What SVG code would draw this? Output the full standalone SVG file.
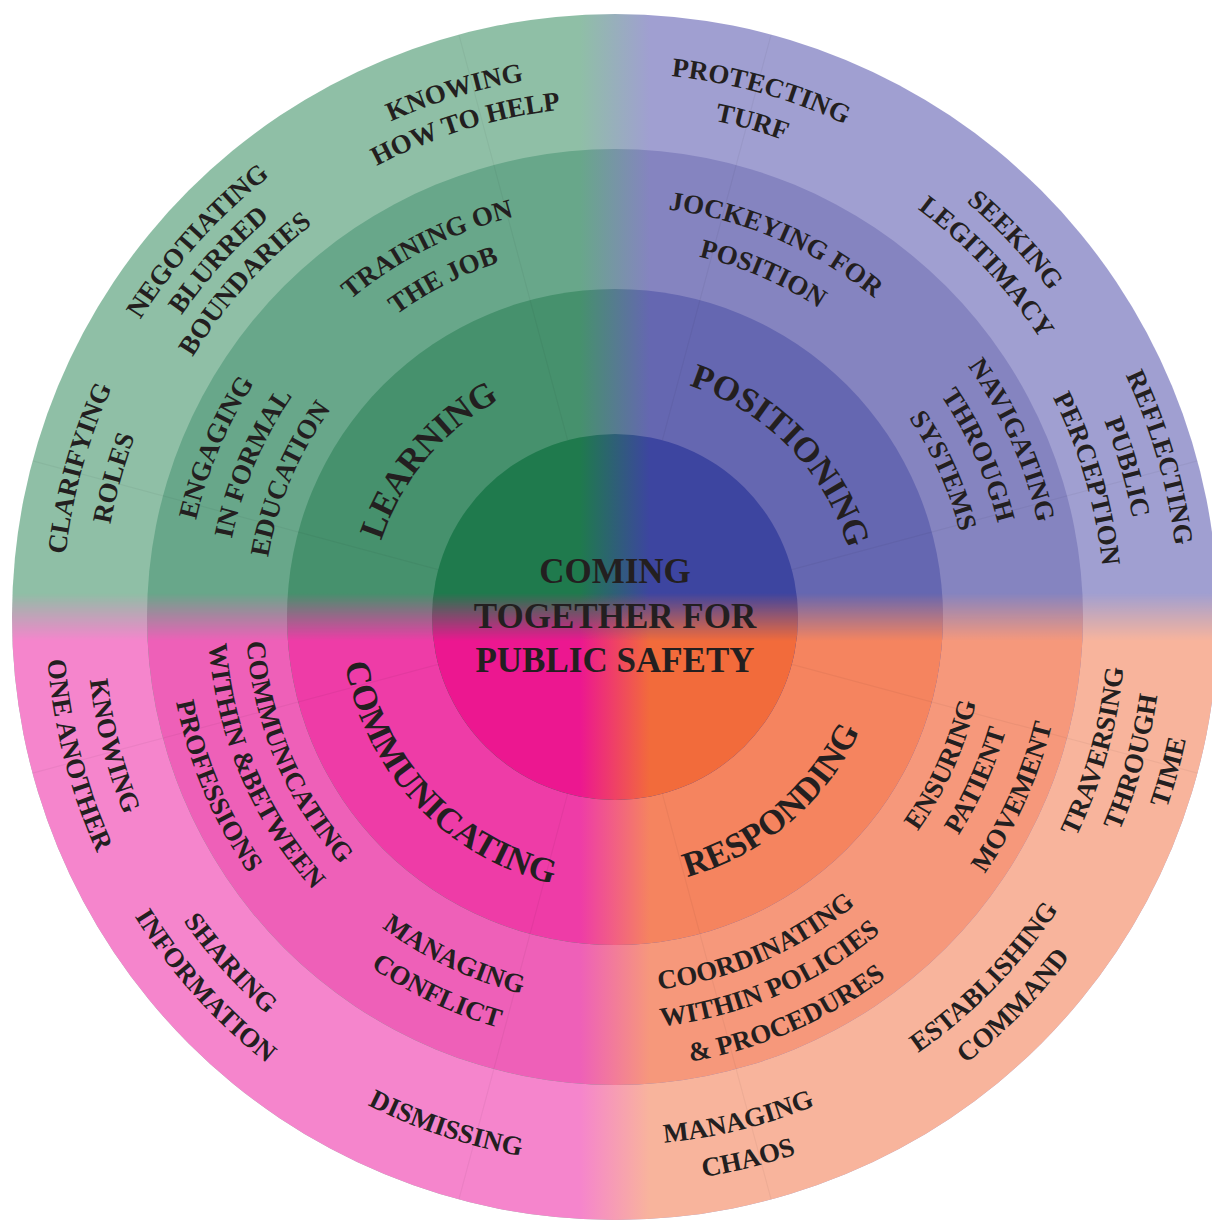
<svg xmlns="http://www.w3.org/2000/svg" xmlns:xlink="http://www.w3.org/1999/xlink" width="1212" height="1220" viewBox="0 0 1212 1220">
<style>
.t{font-family:"Liberation Serif","Times New Roman",serif;font-weight:bold;fill:#231f20;}
.s{font-size:27px;}
.c{font-size:35px;}
.sep{stroke:#000;stroke-opacity:0.045;stroke-width:1.2;fill:none;}
</style>
<defs>
<linearGradient id="h4" gradientUnits="userSpaceOnUse" x1="580" y1="0" x2="650" y2="0"><stop offset="0" stop-color="#8fbfa6"/><stop offset="1" stop-color="#a09fd1"/></linearGradient>
<linearGradient id="h3" gradientUnits="userSpaceOnUse" x1="580" y1="0" x2="650" y2="0"><stop offset="0" stop-color="#68a78a"/><stop offset="1" stop-color="#8584c0"/></linearGradient>
<linearGradient id="h2" gradientUnits="userSpaceOnUse" x1="580" y1="0" x2="650" y2="0"><stop offset="0" stop-color="#46916d"/><stop offset="1" stop-color="#6567b1"/></linearGradient>
<linearGradient id="h1" gradientUnits="userSpaceOnUse" x1="580" y1="0" x2="650" y2="0"><stop offset="0" stop-color="#1f7a4d"/><stop offset="1" stop-color="#3d45a0"/></linearGradient>
<linearGradient id="k4" gradientUnits="userSpaceOnUse" x1="580" y1="0" x2="650" y2="0"><stop offset="0" stop-color="#f585cc"/><stop offset="1" stop-color="#f8b49c"/></linearGradient>
<linearGradient id="k3" gradientUnits="userSpaceOnUse" x1="580" y1="0" x2="650" y2="0"><stop offset="0" stop-color="#ee60b8"/><stop offset="1" stop-color="#f6987b"/></linearGradient>
<linearGradient id="k2" gradientUnits="userSpaceOnUse" x1="580" y1="0" x2="650" y2="0"><stop offset="0" stop-color="#ee3ca7"/><stop offset="1" stop-color="#f5845f"/></linearGradient>
<linearGradient id="k1" gradientUnits="userSpaceOnUse" x1="580" y1="0" x2="650" y2="0"><stop offset="0" stop-color="#ec1790"/><stop offset="1" stop-color="#f26b3b"/></linearGradient>
<linearGradient id="vg" gradientUnits="userSpaceOnUse" x1="0" y1="593" x2="0" y2="641"><stop offset="0" stop-color="#000"/><stop offset="1" stop-color="#fff"/></linearGradient>
<mask id="vm" maskUnits="userSpaceOnUse" x="0" y="0" width="1212" height="1220"><rect x="0" y="0" width="1212" height="1220" fill="url(#vg)"/></mask>
<path id="t553" d="M62 617A553 553 0 0 1 1168 617"/>
<path id="t513" d="M102 617A513 513 0 0 1 1128 617"/>
<path id="t560" d="M55 617A560 560 0 0 1 1175 617"/>
<path id="t528" d="M87 617A528 528 0 0 1 1143 617"/>
<path id="t496" d="M119 617A496 496 0 0 1 1111 617"/>
<path id="t544" d="M71 617A544 544 0 0 1 1159 617"/>
<path id="t510" d="M105 617A510 510 0 0 1 1125 617"/>
<path id="t430" d="M185 617A430 430 0 0 1 1045 617"/>
<path id="t391" d="M224 617A391 391 0 0 1 1006 617"/>
<path id="t352" d="M263 617A352 352 0 0 1 967 617"/>
<path id="t413" d="M202 617A413 413 0 0 1 1028 617"/>
<path id="t373" d="M242 617A373 373 0 0 1 988 617"/>
<path id="t246" d="M369 617A246 246 0 0 1 861 617"/>
<path id="t506" d="M109 617A506 506 0 0 1 1121 617"/>
<path id="t508" d="M107 617A508 508 0 0 1 1123 617"/>
<path id="t565" d="M50 617A565 565 0 0 1 1180 617"/>
<path id="t527" d="M88 617A527 527 0 0 1 1142 617"/>
<path id="t490" d="M125 617A490 490 0 0 1 1105 617"/>
<path id="t411" d="M204 617A411 411 0 0 1 1026 617"/>
<path id="t370" d="M245 617A370 370 0 0 1 985 617"/>
<path id="t433" d="M182 617A433 433 0 0 1 1048 617"/>
<path id="t394" d="M221 617A394 394 0 0 1 1009 617"/>
<path id="t355" d="M260 617A355 355 0 0 1 970 617"/>
<path id="t243" d="M372 617A243 243 0 0 1 858 617"/>
<path id="b529" d="M86 617A529 529 0 0 0 1144 617"/>
<path id="b569" d="M46 617A569 569 0 0 0 1184 617"/>
<path id="b528" d="M87 617A528 528 0 0 0 1143 617"/>
<path id="b566" d="M49 617A566 566 0 0 0 1181 617"/>
<path id="b547" d="M68 617A547 547 0 0 0 1162 617"/>
<path id="b369" d="M246 617A369 369 0 0 0 984 617"/>
<path id="b407" d="M208 617A407 407 0 0 0 1022 617"/>
<path id="b447" d="M168 617A447 447 0 0 0 1062 617"/>
<path id="b388" d="M227 617A388 388 0 0 0 1003 617"/>
<path id="b427" d="M188 617A427 427 0 0 0 1042 617"/>
<path id="b274" d="M341 617A274 274 0 0 0 889 617"/>
<path id="b511" d="M104 617A511 511 0 0 0 1126 617"/>
<path id="b548" d="M67 617A548 548 0 0 0 1163 617"/>
<path id="b584" d="M31 617A584 584 0 0 0 1199 617"/>
<path id="b531" d="M84 617A531 531 0 0 0 1146 617"/>
<path id="b568" d="M47 617A568 568 0 0 0 1183 617"/>
<path id="b567" d="M48 617A567 567 0 0 0 1182 617"/>
<path id="b371" d="M244 617A371 371 0 0 0 986 617"/>
<path id="b450" d="M165 617A450 450 0 0 0 1065 617"/>
<path id="b375" d="M240 617A375 375 0 0 0 990 617"/>
<path id="b412" d="M203 617A412 412 0 0 0 1027 617"/>
<path id="b451" d="M164 617A451 451 0 0 0 1066 617"/>
<path id="b270" d="M345 617A270 270 0 0 0 885 617"/>
</defs>
<g id="rings">
<circle cx="615" cy="617" r="603" fill="url(#h4)"/>
<circle cx="615" cy="617" r="603" fill="url(#k4)" mask="url(#vm)"/>
<circle cx="615" cy="617" r="468" fill="url(#h3)"/>
<circle cx="615" cy="617" r="468" fill="url(#k3)" mask="url(#vm)"/>
<circle cx="615" cy="617" r="328" fill="url(#h2)"/>
<circle cx="615" cy="617" r="328" fill="url(#k2)" mask="url(#vm)"/>
<circle cx="615" cy="617" r="183" fill="url(#h1)"/>
<circle cx="615" cy="617" r="183" fill="url(#k1)" mask="url(#vm)"/>
</g>
<g id="connectors">
<path class="sep" d="M662.4 440.2L771.1 34.6M791.8 569.6L1197.4 460.9M791.8 664.4L1197.4 773.1M662.4 793.8L771.1 1199.4M567.6 793.8L458.9 1199.4M438.2 664.4L32.6 773.1M438.2 569.6L32.6 460.9M567.6 440.2L458.9 34.6"/>
</g>
<g id="center">
<text class="t c" x="615" y="583" text-anchor="middle">COMING</text>
<text class="t c" x="615" y="628" text-anchor="middle">TOGETHER FOR</text>
<text class="t c" x="615" y="672" text-anchor="middle">PUBLIC SAFETY</text>
</g>
<g id="learning"><text class="t c" text-anchor="middle" transform="rotate(310 615 617)"><textPath href="#t246" xlink:href="#t246" startOffset="50%">LEARNING</textPath></text></g>
<g id="positioning"><text class="t c" text-anchor="middle" transform="rotate(45.7 615 617)"><textPath href="#t243" xlink:href="#t243" startOffset="50%">POSITIONING</textPath></text></g>
<g id="communicating"><text class="t c" text-anchor="middle" transform="rotate(46.7 615 617)"><textPath href="#b274" xlink:href="#b274" startOffset="50%">COMMUNICATING</textPath></text></g>
<g id="responding"><text class="t c" text-anchor="middle" transform="rotate(-40.3 615 617)"><textPath href="#b270" xlink:href="#b270" startOffset="50%">RESPONDING</textPath></text></g>
<g id="clarifying-roles" transform="rotate(285.5 615 617)">
<text class="t s" text-anchor="middle"><textPath href="#t553" xlink:href="#t553" startOffset="50%">CLARIFYING</textPath></text>
<text class="t s" text-anchor="middle"><textPath href="#t513" xlink:href="#t513" startOffset="50%">ROLES</textPath></text>
</g>
<g id="negotiating-blurred-boundaries" transform="rotate(312 615 617)">
<text class="t s" text-anchor="middle"><textPath href="#t560" xlink:href="#t560" startOffset="50%">NEGOTIATING</textPath></text>
<text class="t s" text-anchor="middle"><textPath href="#t528" xlink:href="#t528" startOffset="50%">BLURRED</textPath></text>
<text class="t s" text-anchor="middle"><textPath href="#t496" xlink:href="#t496" startOffset="50%">BOUNDARIES</textPath></text>
</g>
<g id="knowing-how-to-help" transform="rotate(343 615 617)">
<text class="t s" text-anchor="middle"><textPath href="#t544" xlink:href="#t544" startOffset="50%">KNOWING</textPath></text>
<text class="t s" text-anchor="middle"><textPath href="#t510" xlink:href="#t510" startOffset="50%">HOW TO HELP</textPath></text>
</g>
<g id="engaging-in-formal-education" transform="rotate(293 615 617)">
<text class="t s" text-anchor="middle"><textPath href="#t430" xlink:href="#t430" startOffset="50%">ENGAGING</textPath></text>
<text class="t s" text-anchor="middle"><textPath href="#t391" xlink:href="#t391" startOffset="50%">IN FORMAL</textPath></text>
<text class="t s" text-anchor="middle"><textPath href="#t352" xlink:href="#t352" startOffset="50%">EDUCATION</textPath></text>
</g>
<g id="training-on-the-job" transform="rotate(333 615 617)">
<text class="t s" text-anchor="middle"><textPath href="#t413" xlink:href="#t413" startOffset="50%">TRAINING ON</textPath></text>
<text class="t s" text-anchor="middle"><textPath href="#t373" xlink:href="#t373" startOffset="50%">THE JOB</textPath></text>
</g>
<g id="protecting-turf" transform="rotate(15.5 615 617)">
<text class="t s" text-anchor="middle"><textPath href="#t544" xlink:href="#t544" startOffset="50%">PROTECTING</textPath></text>
<text class="t s" text-anchor="middle"><textPath href="#t506" xlink:href="#t506" startOffset="50%">TURF</textPath></text>
</g>
<g id="seeking-legitimacy" transform="rotate(46.7 615 617)">
<text class="t s" text-anchor="middle"><textPath href="#t544" xlink:href="#t544" startOffset="50%">SEEKING</textPath></text>
<text class="t s" text-anchor="middle"><textPath href="#t508" xlink:href="#t508" startOffset="50%">LEGITIMACY</textPath></text>
</g>
<g id="reflecting-public-perception" transform="rotate(73.7 615 617)">
<text class="t s" text-anchor="middle"><textPath href="#t565" xlink:href="#t565" startOffset="50%">REFLECTING</textPath></text>
<text class="t s" text-anchor="middle"><textPath href="#t527" xlink:href="#t527" startOffset="50%">PUBLIC</textPath></text>
<text class="t s" text-anchor="middle"><textPath href="#t490" xlink:href="#t490" startOffset="50%">PERCEPTION</textPath></text>
</g>
<g id="jockeying-for-position" transform="rotate(23.3 615 617)">
<text class="t s" text-anchor="middle"><textPath href="#t411" xlink:href="#t411" startOffset="50%">JOCKEYING FOR</textPath></text>
<text class="t s" text-anchor="middle"><textPath href="#t370" xlink:href="#t370" startOffset="50%">POSITION</textPath></text>
</g>
<g id="navigating-through-systems" transform="rotate(66 615 617)">
<text class="t s" text-anchor="middle"><textPath href="#t433" xlink:href="#t433" startOffset="50%">NAVIGATING</textPath></text>
<text class="t s" text-anchor="middle"><textPath href="#t394" xlink:href="#t394" startOffset="50%">THROUGH</textPath></text>
<text class="t s" text-anchor="middle"><textPath href="#t355" xlink:href="#t355" startOffset="50%">SYSTEMS</textPath></text>
</g>
<g id="knowing-one-another" transform="rotate(75.6 615 617)">
<text class="t s" text-anchor="middle"><textPath href="#b529" xlink:href="#b529" startOffset="50%">KNOWING</textPath></text>
<text class="t s" text-anchor="middle"><textPath href="#b569" xlink:href="#b569" startOffset="50%">ONE ANOTHER</textPath></text>
</g>
<g id="sharing-information" transform="rotate(48 615 617)">
<text class="t s" text-anchor="middle"><textPath href="#b528" xlink:href="#b528" startOffset="50%">SHARING</textPath></text>
<text class="t s" text-anchor="middle"><textPath href="#b566" xlink:href="#b566" startOffset="50%">INFORMATION</textPath></text>
</g>
<g id="dismissing" transform="rotate(18.4 615 617)">
<text class="t s" text-anchor="middle"><textPath href="#b547" xlink:href="#b547" startOffset="50%">DISMISSING</textPath></text>
</g>
<g id="communicating-within-between-professions" transform="rotate(67 615 617)">
<text class="t s" text-anchor="middle"><textPath href="#b369" xlink:href="#b369" startOffset="50%">COMMUNICATING</textPath></text>
<text class="t s" text-anchor="middle"><textPath href="#b407" xlink:href="#b407" startOffset="50%">WITHIN &amp;BETWEEN</textPath></text>
<text class="t s" text-anchor="middle"><textPath href="#b447" xlink:href="#b447" startOffset="50%">PROFESSIONS</textPath></text>
</g>
<g id="managing-conflict" transform="rotate(25.4 615 617)">
<text class="t s" text-anchor="middle"><textPath href="#b388" xlink:href="#b388" startOffset="50%">MANAGING</textPath></text>
<text class="t s" text-anchor="middle"><textPath href="#b427" xlink:href="#b427" startOffset="50%">CONFLICT</textPath></text>
</g>
<g id="traversing-through-time" transform="rotate(-74.4 615 617)">
<text class="t s" text-anchor="middle"><textPath href="#b511" xlink:href="#b511" startOffset="50%">TRAVERSING</textPath></text>
<text class="t s" text-anchor="middle"><textPath href="#b548" xlink:href="#b548" startOffset="50%">THROUGH</textPath></text>
<text class="t s" text-anchor="middle"><textPath href="#b584" xlink:href="#b584" startOffset="50%">TIME</textPath></text>
</g>
<g id="establishing-command" transform="rotate(-45.7 615 617)">
<text class="t s" text-anchor="middle"><textPath href="#b531" xlink:href="#b531" startOffset="50%">ESTABLISHING</textPath></text>
<text class="t s" text-anchor="middle"><textPath href="#b568" xlink:href="#b568" startOffset="50%">COMMAND</textPath></text>
</g>
<g id="managing-chaos" transform="rotate(-13.8 615 617)">
<text class="t s" text-anchor="middle"><textPath href="#b528" xlink:href="#b528" startOffset="50%">MANAGING</textPath></text>
<text class="t s" text-anchor="middle"><textPath href="#b567" xlink:href="#b567" startOffset="50%">CHAOS</textPath></text>
</g>
<g id="ensuring-patient-movement" transform="rotate(-65.7 615 617)">
<text class="t s" text-anchor="middle"><textPath href="#b371" xlink:href="#b371" startOffset="50%">ENSURING</textPath></text>
<text class="t s" text-anchor="middle"><textPath href="#b407" xlink:href="#b407" startOffset="50%">PATIENT</textPath></text>
<text class="t s" text-anchor="middle"><textPath href="#b450" xlink:href="#b450" startOffset="50%">MOVEMENT</textPath></text>
</g>
<g id="coordinating-within-policies-procedures" transform="rotate(-23.3 615 617)">
<text class="t s" text-anchor="middle"><textPath href="#b375" xlink:href="#b375" startOffset="50%">COORDINATING</textPath></text>
<text class="t s" text-anchor="middle"><textPath href="#b412" xlink:href="#b412" startOffset="50%">WITHIN POLICIES</textPath></text>
<text class="t s" text-anchor="middle"><textPath href="#b451" xlink:href="#b451" startOffset="50%">&amp; PROCEDURES</textPath></text>
</g>
</svg>
